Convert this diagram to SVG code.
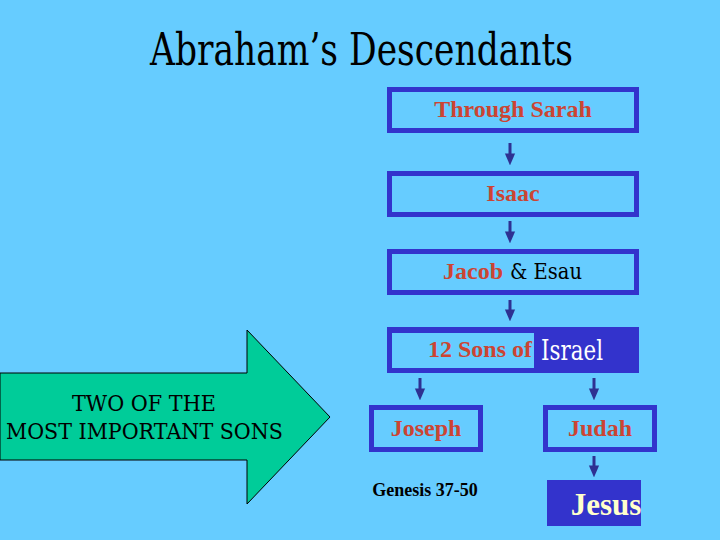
<svg xmlns="http://www.w3.org/2000/svg" width="720" height="540" viewBox="0 0 720 540">
<defs>
<marker id="ah" markerWidth="4" markerHeight="4" refX="2.2" refY="2" orient="auto" markerUnits="strokeWidth" viewBox="0 0 4 4">
<path d="M0,0.3 L4,2 L0,3.7 Z" fill="#2E3192"/>
</marker>
<style>
text{font-family:"Liberation Serif","Times New Roman",serif}
.reg{font-family:"DejaVu Serif","Liberation Serif",serif;font-weight:normal}
.box{fill:none;stroke:#3333CC;stroke-width:5}
.lbl{font-weight:bold;font-size:24px;fill:#CC4433;text-anchor:middle}
.con{stroke:#2E3192;stroke-width:3;fill:none;marker-end:url(#ah)}
.arr{font-size:22px;fill:#000}
</style>
</defs>
<rect width="720" height="540" fill="#66CCFF"/>
<text class="reg" x="150" y="65" font-size="44" textLength="423" lengthAdjust="spacingAndGlyphs" fill="#000">Abraham’s Descendants</text>
<g id="arrow-two">
<polygon points="0,373 247,373 247,330 330,417 247,504 247,460 0,460" fill="#00CC99" stroke="#000" stroke-width="1"/>
<text class="reg arr" x="72" y="411" textLength="144" lengthAdjust="spacingAndGlyphs">TWO OF THE</text>
<text class="reg arr" x="6" y="439" textLength="277" lengthAdjust="spacingAndGlyphs">MOST IMPORTANT SONS</text>
</g>
<g id="sarah">
<rect class="box" x="389.5" y="89.5" width="247" height="41"/>
<text class="lbl" x="513" y="117">Through Sarah</text>
</g>
<g id="isaac">
<rect class="box" x="389.5" y="173.5" width="247" height="41"/>
<text class="lbl" x="513" y="201">Isaac</text>
</g>
<g id="jacob">
<rect class="box" x="389.5" y="251.5" width="247" height="41"/>
<text x="443" y="279" font-size="24" font-weight="bold" fill="#CC4433">Jacob</text>
<text class="reg" x="510" y="279" font-size="22" textLength="72" lengthAdjust="spacingAndGlyphs" fill="#000">&amp; Esau</text>
</g>
<g id="sons">
<rect x="387" y="327" width="252" height="46" fill="#3333CC"/>
<rect x="392" y="333" width="142" height="35" fill="#66CCFF"/>
<text x="428" y="357" font-size="24" font-weight="bold" fill="#CC4433">12 Sons of</text>
<text class="reg" x="541" y="360" font-size="27" textLength="62" lengthAdjust="spacingAndGlyphs" fill="#FFFFFF">Israel</text>
</g>
<g id="joseph">
<rect class="box" x="371.5" y="407.5" width="109" height="42"/>
<text class="lbl" x="426" y="436">Joseph</text>
</g>
<g id="judah">
<rect class="box" x="545.5" y="407.5" width="109" height="42"/>
<text class="lbl" x="600" y="436">Judah</text>
</g>
<g id="genesis">
<text x="425" y="496" font-size="18" font-weight="bold" text-anchor="middle" fill="#000">Genesis 37-50</text>
</g>
<g id="jesus">
<rect x="547" y="480" width="94" height="46" fill="#3333CC"/>
<text x="606" y="515" font-size="31" font-weight="bold" text-anchor="middle" fill="#FFFFCC">Jesus</text>
</g>
<g id="connectors">
<line class="con" x1="510" y1="143" x2="510" y2="160"/>
<line class="con" x1="510" y1="221" x2="510" y2="238"/>
<line class="con" x1="510" y1="300" x2="510" y2="316"/>
<line class="con" x1="420" y1="378" x2="420" y2="395"/>
<line class="con" x1="594" y1="378" x2="594" y2="395"/>
<line class="con" x1="594" y1="456" x2="594" y2="472"/>
</g>
</svg>
